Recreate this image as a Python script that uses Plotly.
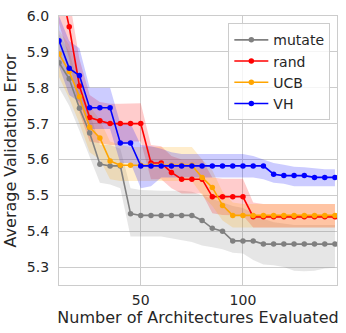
import plotly.graph_objects as go

x = list(range(10, 150, 5))

mutate_mean = [5.87, 5.825, 5.743, 5.674, 5.587, 5.582, 5.582, 5.449, 5.444, 5.444, 5.444, 5.444, 5.444, 5.444,
               5.43, 5.408, 5.40, 5.373, 5.373, 5.373, 5.364, 5.364, 5.364, 5.364, 5.364, 5.364, 5.364, 5.364]
mutate_upper = [5.95, 5.90, 5.80, 5.73, 5.64, 5.64, 5.63, 5.52, 5.515, 5.513, 5.513, 5.513, 5.513, 5.51,
                5.50, 5.49, 5.48, 5.47, 5.465, 5.45, 5.435, 5.425, 5.42, 5.417, 5.417, 5.417, 5.417, 5.417]
mutate_lower = [5.80, 5.75, 5.68, 5.61, 5.535, 5.53, 5.52, 5.385, 5.385, 5.385, 5.385, 5.38, 5.375, 5.37,
                5.36, 5.355, 5.35, 5.34, 5.338, 5.32, 5.307, 5.305, 5.30, 5.29, 5.288, 5.29, 5.296, 5.298]

rand_mean = [6.10, 5.97, 5.805, 5.717, 5.708, 5.70, 5.70, 5.70, 5.70, 5.59, 5.59, 5.564, 5.545, 5.545,
             5.545, 5.496, 5.496, 5.496, 5.496, 5.44, 5.44, 5.44, 5.44, 5.44, 5.44, 5.44, 5.44, 5.44]
rand_upper = [6.20, 6.05, 5.88, 5.78, 5.76, 5.755, 5.755, 5.757, 5.757, 5.64, 5.637, 5.61, 5.60, 5.60,
              5.60, 5.55, 5.546, 5.546, 5.546, 5.48, 5.476, 5.476, 5.476, 5.476, 5.476, 5.476, 5.476, 5.476]
rand_lower = [5.98, 5.88, 5.73, 5.65, 5.645, 5.64, 5.64, 5.65, 5.65, 5.545, 5.545, 5.52, 5.505, 5.505,
              5.505, 5.45, 5.445, 5.444, 5.444, 5.41, 5.41, 5.41, 5.41, 5.41, 5.41, 5.41, 5.41, 5.41]

ucb_mean = [5.894, 5.845, 5.775, 5.69, 5.66, 5.596, 5.584, 5.584, 5.584, 5.584, 5.584, 5.584, 5.584, 5.584,
            5.55, 5.522, 5.472, 5.444, 5.444, 5.444, 5.444, 5.444, 5.444, 5.444, 5.444, 5.444, 5.444, 5.444]
ucb_upper = [5.96, 5.92, 5.83, 5.75, 5.71, 5.65, 5.64, 5.635, 5.635, 5.635, 5.635, 5.635, 5.635, 5.635,
             5.60, 5.57, 5.51, 5.48, 5.476, 5.476, 5.476, 5.476, 5.476, 5.476, 5.476, 5.476, 5.476, 5.476]
ucb_lower = [5.83, 5.77, 5.70, 5.62, 5.60, 5.545, 5.54, 5.54, 5.54, 5.54, 5.54, 5.54, 5.54, 5.54,
             5.50, 5.47, 5.43, 5.41, 5.41, 5.41, 5.41, 5.41, 5.41, 5.41, 5.41, 5.41, 5.41, 5.41]

vh_mean = [5.931, 5.854, 5.834, 5.744, 5.744, 5.744, 5.646, 5.646, 5.582, 5.582, 5.582, 5.582, 5.582, 5.582,
           5.582, 5.582, 5.582, 5.582, 5.582, 5.582, 5.582, 5.559, 5.555, 5.555, 5.555, 5.55, 5.55, 5.55]
vh_upper = [6.0, 5.93, 5.91, 5.80, 5.80, 5.80, 5.70, 5.70, 5.64, 5.637, 5.63, 5.62, 5.615, 5.615,
            5.615, 5.615, 5.615, 5.615, 5.615, 5.61, 5.60, 5.59, 5.585, 5.58, 5.578, 5.575, 5.573, 5.573]
vh_lower = [5.86, 5.78, 5.76, 5.685, 5.685, 5.685, 5.59, 5.59, 5.52, 5.525, 5.55, 5.55, 5.55, 5.55,
            5.55, 5.55, 5.55, 5.55, 5.55, 5.55, 5.545, 5.535, 5.532, 5.525, 5.525, 5.525, 5.525, 5.525]

series = [
    ("mutate", mutate_mean, mutate_upper, mutate_lower, "rgb(128,128,128)", "rgba(128,128,128,0.2)"),
    ("rand", rand_mean, rand_upper, rand_lower, "rgb(255,0,0)", "rgba(255,0,0,0.2)"),
    ("UCB", ucb_mean, ucb_upper, ucb_lower, "rgb(255,165,0)", "rgba(255,165,0,0.2)"),
    ("VH", vh_mean, vh_upper, vh_lower, "rgb(0,0,255)", "rgba(0,0,255,0.2)"),
]

fig = go.Figure()
for name, mean, up, lo, col, fillc in series:
    fig.add_trace(go.Scatter(x=x + x[::-1], y=up + lo[::-1], fill="toself", fillcolor=fillc,
                             line=dict(width=0), mode="lines", showlegend=False, hoverinfo="skip"))
for name, mean, up, lo, col, fillc in series:
    fig.add_trace(go.Scatter(x=x, y=mean, name=name, mode="lines+markers",
                             line=dict(color=col, width=1.6), marker=dict(color=col, size=5.5)))

font_color = "#262626"
fig.update_layout(
    width=346, height=333,
    margin=dict(l=59, r=8, t=13, b=48),
    paper_bgcolor="white", plot_bgcolor="white",
    font=dict(family="DejaVu Sans", size=14, color=font_color),
    legend=dict(x=0.976, y=0.973, xanchor="right", yanchor="top",
                bgcolor="rgba(255,255,255,0.8)", bordercolor="#cccccc", borderwidth=1,
                font=dict(size=14, color=font_color), itemwidth=34),
    xaxis=dict(range=[10, 146], tickvals=[50, 100], showgrid=True, gridcolor="#cccccc", gridwidth=1,
               showline=True, linecolor="#cccccc", linewidth=1.25, mirror=True, zeroline=False,
               ticks="outside", ticklen=2, tickcolor="rgba(0,0,0,0)",
               title=dict(text="Number of Architectures Evaluated", font=dict(size=16), standoff=3)),
    yaxis=dict(range=[5.25, 6.0], tickvals=[5.3, 5.4, 5.5, 5.6, 5.7, 5.8, 5.9, 6.0], tickformat=".1f",
               showgrid=True, gridcolor="#cccccc", gridwidth=1,
               showline=True, linecolor="#cccccc", linewidth=1.25, mirror=True, zeroline=False,
               ticks="outside", ticklen=6, tickcolor="rgba(0,0,0,0)",
               title=dict(text="Average Validation Error", font=dict(size=16), standoff=6)),
)

fig.write_html("out.html", config={"displayModeBar": False},
               post_script="document.body.style.margin='0';")
